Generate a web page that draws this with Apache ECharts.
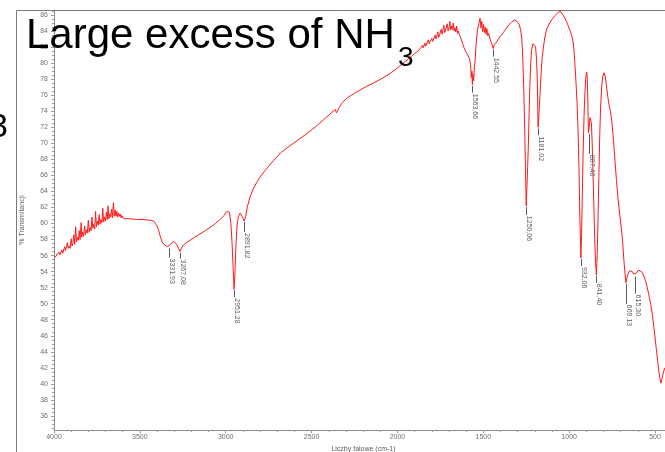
<!DOCTYPE html>
<html>
<head>
<meta charset="utf-8">
<title>IR spectrum</title>
<script src="https://cdn.jsdelivr.net/npm/echarts@6/dist/echarts.min.js"></script>
<style>
  html, body { margin: 0; padding: 0; background: #fff; }
  #chart { width: 665px; height: 452px; }
</style>
</head>
<body>
<div id="chart"></div>
<script>
// Wavenumber (cm-1), descending, and % transmittance of the spectrum
const wavenumber = [
  4000, 3994, 3988, 3982, 3976, 3970, 3965, 3960, 3954, 3949, 3944, 3938, 3933, 3928, 3922, 3917,
  3912, 3906, 3900, 3895, 3890, 3884, 3879, 3874, 3869, 3864, 3858, 3853, 3848, 3842, 3838, 3833,
  3828, 3822, 3817, 3812, 3806, 3800, 3795, 3790, 3784, 3779, 3774, 3769, 3763, 3758, 3753, 3748,
  3742, 3737, 3732, 3727, 3721, 3716, 3711, 3706, 3700, 3695, 3690, 3685, 3680, 3675, 3670, 3665,
  3660, 3654, 3649, 3644, 3639, 3634, 3629, 3624, 3619, 3614, 3609, 3604, 3598, 3592, 3586, 3580,
  3570, 3560, 3540, 3520, 3500, 3480, 3460, 3440, 3420,
  3410, 3400, 3390, 3380, 3370, 3360, 3350, 3340, 3331.93, 3320, 3305, 3295, 3285, 3275, 3267.08,
  3258, 3247, 3230, 3208, 3180, 3150, 3120, 3092, 3060, 3033, 3010, 2994, 2985, 2978, 2970, 2963,
  2957, 2951.28, 2946, 2940, 2934, 2926, 2916, 2908, 2900, 2891.82, 2884, 2875, 2860, 2840, 2820,
  2800, 2760, 2720, 2680, 2626, 2580, 2528, 2480, 2432, 2400, 2375, 2362, 2355, 2348, 2338, 2320,
  2290, 2237, 2180, 2140, 2090, 2043, 2000, 1960, 1930, 1900, 1880,
  1870, 1865, 1860, 1855, 1850, 1845, 1840, 1835, 1830, 1825, 1820, 1815, 1810, 1805, 1800, 1795,
  1790, 1785, 1780, 1775, 1770, 1765, 1760, 1755, 1750, 1745, 1740, 1735, 1730, 1725, 1720, 1715,
  1710, 1705, 1700, 1695, 1690, 1685, 1680, 1675, 1670, 1665, 1660, 1655, 1650, 1645, 1640, 1636,
  1628, 1620, 1612, 1604, 1596, 1588, 1580, 1574,
  1570, 1566, 1563.66, 1560, 1556, 1552, 1548, 1544, 1539, 1534, 1529, 1524, 1519, 1514, 1509, 1504,
  1499, 1494, 1489, 1484, 1479, 1474, 1468, 1462, 1456, 1450, 1442.55, 1436, 1430, 1424, 1418, 1412,
  1406, 1400, 1392, 1383, 1374, 1364, 1350, 1335, 1316, 1300, 1290, 1282, 1276, 1270, 1264, 1258,
  1254, 1250.06, 1246, 1242, 1238, 1232, 1226, 1220, 1212, 1206, 1200, 1195, 1190, 1186, 1183, 1181.02,
  1178, 1174, 1170, 1164, 1158, 1150, 1141, 1130, 1111, 1095, 1083, 1070, 1060, 1053, 1046, 1036,
  1025, 1010, 996, 985, 976, 970, 966, 960, 954, 948, 943, 938, 934, 932.06, 928, 924,
  919, 914, 909, 904, 899, 896, 893, 890, 887.4, 884, 879, 875, 871, 866, 861, 856,
  851, 846, 841.4, 837, 832, 827, 822, 817, 811, 805, 797, 790, 782, 775, 768, 760,
  752, 744, 735, 725, 715, 705, 695, 688, 681, 675, 669.13, 663, 656, 648, 640, 632,
  625, 619, 615.3, 610, 603, 595, 585, 575, 565, 555, 545, 535, 525, 515, 505, 495,
  485, 477, 470, 466, 461, 455, 449, 443
];
const transmittance = [
  55.8, 56.0, 55.9, 56.2, 56.0, 56.4, 56.1, 56.3, 56.7, 56.3, 56.5, 57.1, 56.6, 56.8, 57.6, 56.9,
  57.2, 56.9, 58.1, 57.2, 57.5, 58.6, 57.4, 59.6, 57.7, 58.3, 57.9, 59.1, 58.0, 60.1, 58.3, 58.9,
  58.4, 59.7, 58.6, 59.2, 58.8, 60.4, 58.9, 59.5, 59.1, 60.8, 59.4, 59.9, 59.3, 61.5, 59.6, 60.3,
  59.8, 61.1, 59.9, 60.5, 60.1, 61.9, 60.2, 60.8, 60.3, 61.4, 60.5, 62.2, 60.6, 61.2, 60.8, 61.8,
  60.7, 62.6, 60.9, 61.7, 60.9, 61.5, 60.8, 61.3, 60.9, 61.2, 60.7, 61.0, 60.7, 60.9, 60.6, 60.7,
  60.6, 60.55, 60.55, 60.5, 60.5, 60.5, 60.45, 60.4, 60.3,
  60.1, 59.7, 59.1, 58.3, 57.7, 57.4, 57.2, 57.1, 57.0, 57.4, 57.8, 57.7, 57.4, 56.9, 56.5,
  56.9, 57.3, 57.6, 57.9, 58.3, 58.7, 59.1, 59.5, 60.0, 60.5, 61.0, 61.5, 61.7, 61.4, 60.0, 57.5,
  54.5, 51.8, 54.0, 57.5, 59.8, 60.9, 61.3, 61.2, 60.7, 60.3, 60.9, 62.0, 63.2, 64.3, 65.1,
  65.8, 66.9, 67.9, 68.8, 69.7, 70.4, 71.2, 72.0, 72.9, 73.5, 74.0, 74.2, 73.8, 73.9, 74.5, 75.1,
  75.7, 76.4, 77.1, 77.5, 78.1, 78.7, 79.4, 80.1, 80.6, 81.2, 81.5,
  81.7, 81.9, 81.8, 82.2, 81.9, 82.0, 82.5, 82.1, 82.3, 82.2, 82.9, 82.4, 82.6, 82.5, 83.1, 82.7,
  82.9, 82.8, 83.5, 83.0, 83.2, 83.9, 83.2, 83.5, 83.4, 84.2, 83.6, 83.8, 84.7, 83.8, 84.1, 84.0,
  84.9, 84.0, 84.3, 85.2, 84.1, 84.6, 84.2, 85.0, 84.0, 84.4, 83.9, 84.6, 83.7, 84.0, 83.6, 83.5,
  82.9, 82.4, 81.9, 81.5, 81.2, 80.9, 80.5, 79.8,
  78.2, 79.0, 77.3, 78.6, 77.8, 79.5, 80.2, 81.8, 83.0, 84.2, 84.6, 85.1, 85.6, 84.4, 85.2, 83.9,
  84.8, 83.8, 84.5, 83.6, 84.3, 83.4, 83.7, 83.1, 82.7, 82.4, 81.8, 82.3, 82.1, 82.6, 82.4, 83.0,
  82.9, 83.4, 83.6, 83.8, 84.1, 84.4, 84.8, 85.1, 85.4, 85.1, 84.8, 84.0, 83.1, 80.5, 76.5, 71.0,
  66.0, 62.2, 64.5, 67.0, 69.5, 75.0, 79.0, 81.4, 82.4, 82.5, 82.2, 81.8, 80.5, 78.0, 74.5, 72.0,
  73.0, 74.5, 76.0, 78.5, 80.5, 82.0, 83.3, 84.3, 85.1, 85.6, 85.9, 86.2, 86.4, 86.5, 86.3, 86.0,
  85.6, 84.9, 84.1, 83.4, 82.5, 81.0, 79.6, 77.5, 75.0, 71.5, 67.0, 61.0, 57.5, 55.7, 58.5, 63.0,
  68.5, 73.0, 76.0, 78.0, 78.9, 78.6, 77.0, 73.5, 71.3, 72.0, 73.2, 73.4, 72.6, 70.0, 66.0, 62.0,
  58.0, 55.0, 53.6, 56.0, 60.5, 66.0, 71.0, 74.5, 77.0, 78.3, 78.8, 78.3, 77.0, 75.8, 74.8, 74.0,
  72.8, 71.0, 68.3, 65.5, 63.0, 61.0, 59.2, 57.5, 55.3, 53.8, 52.6, 53.3, 53.8, 54.1, 54.2, 54.0,
  53.7, 53.5, 53.5, 53.8, 54.0, 54.2, 54.1, 53.9, 53.4, 52.8, 52.0, 51.0, 49.9, 48.5, 46.8, 44.8,
  42.9, 41.4, 40.5, 40.1, 40.5, 41.1, 41.6, 42.0
];

// Labelled band positions (cm-1) and their transmittance
const peakWavenumber = [3331.93, 3267.08, 2951.28, 2891.82, 1563.66, 1442.55, 1250.06, 1181.02, 932.06, 887.40, 841.40, 669.13, 615.30];
const peakTransmittance = [57.0, 56.5, 51.8, 60.3, 77.3, 81.8, 62.2, 72.0, 55.7, 71.3, 53.6, 52.6, 53.5];

// Axis tick labels
const xTickLabels = [4000, 3500, 3000, 2500, 2000, 1500, 1000, 500];
const yTickLabels = [36, 38, 40, 42, 44, 46, 48, 50, 52, 54, 56, 58, 60, 62, 64, 66, 68, 70, 72, 74, 76, 78, 80, 82, 84, 86];

// Leader line lengths (px) under each band label
const leaderLength = [9, 6, 7, 10, 7, 7, 8, 7, 7, 20, 7, 20, 17];

const xMinorTicks = [];
for (let v = 500; v <= 4000; v += 100) xMinorTicks.push(v);
const yMinorTicks = [];
for (let v = 34.5; v <= 86.5; v += 0.5) yMinorTicks.push(v);

const X_MIN = 442, X_MAX = 4000;
const Y_MIN = 34.25, Y_MAX = 86.62;
const FONT = '"Liberation Sans", Arial, sans-serif';

const spectrum = wavenumber.map((w, i) => [w, transmittance[i]]);
const peaks = peakWavenumber.map((w, i) => [w, peakTransmittance[i], i]);

function formatWavenumber(v) {
  return v.toFixed(2).replace('.', ',');
}

const chart = echarts.init(document.getElementById('chart'), null, { renderer: 'canvas' });

chart.setOption({
  animation: false,
  backgroundColor: '#fff',
  grid: { left: 54, top: 10, width: 611, height: 420, containLabel: false, outerBoundsMode: 'none' },
  xAxis: [
    {
      type: 'value', inverse: true, min: X_MIN, max: X_MAX,
      axisLine: { lineStyle: { color: '#8c8c8c', width: 1 } },
      axisTick: { customValues: xTickLabels, length: 3, lineStyle: { color: '#8c8c8c' } },
      axisLabel: {
        customValues: xTickLabels, color: '#707070', fontSize: 7, fontFamily: FONT, margin: 4,
        formatter: (v) => String(v)
      },
      splitLine: { show: false },
      name: 'Liczby falowe (cm-1)', nameLocation: 'middle', nameGap: 16,
      nameTextStyle: { color: '#606060', fontSize: 7, fontFamily: FONT, padding: [0, 0, 0, 8] }
    },
    {
      type: 'value', inverse: true, min: X_MIN, max: X_MAX, position: 'bottom',
      axisLine: { show: false },
      axisTick: { customValues: xMinorTicks, length: 2, lineStyle: { color: '#a0a0a0' } },
      axisLabel: { show: false },
      splitLine: { show: false }
    }
  ],
  yAxis: [
    {
      type: 'value', min: Y_MIN, max: Y_MAX,
      axisLine: { show: true, lineStyle: { color: '#8c8c8c', width: 1 } },
      axisTick: { show: true, customValues: yTickLabels, length: 3, lineStyle: { color: '#8c8c8c' } },
      axisLabel: {
        customValues: yTickLabels, color: '#707070', fontSize: 7, fontFamily: FONT, margin: 6,
        formatter: (v) => String(v)
      },
      splitLine: { show: false },
      name: '% Transmitancji', nameLocation: 'middle', nameGap: 28,
      nameTextStyle: { color: '#606060', fontSize: 7, fontFamily: FONT }
    },
    {
      type: 'value', min: Y_MIN, max: Y_MAX, position: 'left',
      axisLine: { show: false },
      axisTick: { show: true, customValues: yMinorTicks, length: 2, lineStyle: { color: '#a0a0a0' } },
      axisLabel: { show: false },
      splitLine: { show: false }
    }
  ],
  series: [
    {
      name: 'spectrum', type: 'line', data: spectrum,
      showSymbol: false, symbol: 'none', smooth: false,
      lineStyle: { color: '#ff1a1a', width: 1 },
      z: 2
    },
    {
      name: 'bands', type: 'custom', data: peaks, z: 3,
      renderItem: function (params, api) {
        const p = api.coord([api.value(0), api.value(1)]);
        const idx = api.value(2);
        const len = leaderLength[idx];
        const x = Math.round(p[0]) + 0.5;
        return {
          type: 'group',
          children: [
            {
              type: 'line',
              shape: { x1: x, y1: p[1] + 1, x2: x, y2: p[1] + 1 + len },
              style: { stroke: '#5a5a5a', lineWidth: 1 }
            },
            {
              type: 'text',
              x: p[0] + 3, y: p[1] + 2 + len,
              rotation: -Math.PI / 2,
              style: {
                text: formatWavenumber(peakWavenumber[idx]),
                fill: '#606060', fontSize: 7, fontFamily: FONT,
                align: 'left', verticalAlign: 'middle'
              }
            }
          ]
        };
      }
    }
  ],
  graphic: [
    {
      type: 'rect', silent: true, z: 0,
      shape: { x: 16.5, y: 10.5, width: 700, height: 500 },
      style: { fill: null, stroke: '#7a7a7a', lineWidth: 1 }
    },
    {
      type: 'text', x: 26, y: 36.5, z: 100,
      style: { text: 'Large excess of NH', fontSize: 42, fontFamily: FONT, fill: '#000', verticalAlign: 'middle' }
    },
    {
      type: 'text', x: 398, y: 58, z: 100,
      style: { text: '3', fontSize: 28, fontFamily: FONT, fill: '#000', verticalAlign: 'middle' }
    },
    {
      type: 'text', x: -11, y: 128, z: 100,
      style: { text: '3', fontSize: 34, fontFamily: FONT, fill: '#000', verticalAlign: 'middle' }
    }
  ]
});
</script>
</body>
</html>
